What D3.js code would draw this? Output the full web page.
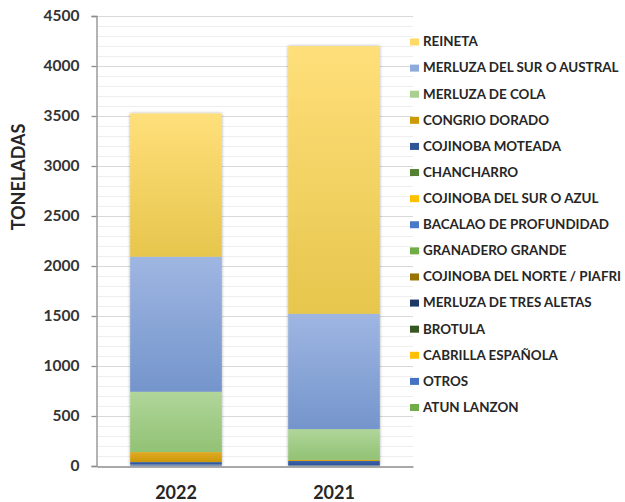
<!DOCTYPE html>
<html>
<head>
<meta charset="utf-8">
<script src="https://cdn.jsdelivr.net/npm/d3@7"></script>
<style>
  html, body { margin: 0; padding: 0; background: #fff; }
  svg text { font-family: Lato, "Open Sans", sans-serif; font-weight: 700; }
</style>
</head>
<body>
<div id="chart"></div>
<script>
// Chart values
var years = ["2022", "2021"];

var species = [
  "REINETA", "MERLUZA DEL SUR O AUSTRAL", "MERLUZA DE COLA", "CONGRIO DORADO",
  "COJINOBA MOTEADA", "CHANCHARRO", "COJINOBA DEL SUR O AZUL", "BACALAO DE PROFUNDIDAD",
  "GRANADERO GRANDE", "COJINOBA DEL NORTE / PIAFRI", "MERLUZA DE TRES ALETAS",
  "BROTULA", "CABRILLA ESPAÑOLA", "OTROS", "ATUN LANZON"
];

// tonnes per species, same order as species
var tons2022 = [1433, 1350, 604, 100, 24, 1, 0.5, 8, 0.5, 0.5, 0.5, 0.3, 0.3, 3, 0.3];
var tons2021 = [2677, 1153, 307, 12, 44, 0.5, 0.5, 2, 0.3, 0.3, 0.3, 0.3, 0.3, 1, 0.3];

var yTicks = [0, 500, 1000, 1500, 2000, 2500, 3000, 3500, 4000, 4500];

// Office palette, light top / dark bottom of each segment
var topColors = [
  "#ffdf7a", "#9fb6e2", "#b0d69a", "#e2aa22", "#3b63b0", "#5d8e3c", "#ffc928", "#5a85d0",
  "#82bd5a", "#a47c0a", "#27447a", "#3f6229", "#ffc928", "#5a85d0", "#82bd5a"
];
var bottomColors = [
  "#e6c64c", "#7495cc", "#92c274", "#c9980a", "#2d5194", "#4c7a30", "#eab000", "#3f68b5",
  "#67a040", "#8c6800", "#1c335f", "#2f4a1d", "#eab000", "#3f68b5", "#67a040"
];
var swatchColors = [
  "#ffd966", "#8eaadb", "#a9d08e", "#cc9a06", "#2f5597", "#548235", "#ffc000", "#4a78c8",
  "#70ad47", "#997300", "#203864", "#375623", "#ffc000", "#4472c4", "#70ad47"
];

(function(d3) {
  var
  W      = 625,
  H      = 502,
  plot   = { left: 97, right: 413, top: 16, bottom: 466 }
  ;

  var svg = d3.select("#chart").append("svg")
      .attr("width", W)
      .attr("height", H);

  var defs = svg.append("defs");

  // per species gradient, relative to each segment's own box
  species.forEach(function(s, i) {
    var g = defs.append("linearGradient")
        .attr("id", "grad" + i)
        .attr("x1", 0).attr("y1", 0).attr("x2", 0).attr("y2", 1);
    g.append("stop").attr("offset", "0%").attr("stop-color", topColors[i]);
    g.append("stop").attr("offset", "100%").attr("stop-color", bottomColors[i]);
  });

  var shadow = defs.append("filter")
      .attr("id", "shadow")
      .attr("x", "-20%").attr("y", "-5%").attr("width", "140%").attr("height", "110%");
  shadow.append("feDropShadow")
      .attr("dx", 0).attr("dy", 0)
      .attr("stdDeviation", 1.8)
      .attr("flood-color", "#000")
      .attr("flood-opacity", 0.35);

  // Scales
  var x = d3.scaleBand()
      .domain(years)
      .range([plot.left, plot.right])
      .paddingInner(0.42)
      .paddingOuter(0.21);

  var y = d3.scaleLinear()
      .domain([0, 4500])
      .range([plot.bottom, plot.top]);

  // Minor and major gridlines
  svg.append("g").attr("class", "grid-minor")
    .selectAll("line")
      .data(d3.range(100, 4501, 100).filter(function(v) { return v % 500 !== 0; }))
    .enter().append("line")
      .attr("x1", plot.left).attr("x2", plot.right)
      .attr("y1", function(d) { return y(d) + 0.5; })
      .attr("y2", function(d) { return y(d) + 0.5; })
      .attr("stroke", "#eeeeee");

  svg.append("g").attr("class", "grid-major")
    .selectAll("line")
      .data(yTicks.slice(1))
    .enter().append("line")
      .attr("x1", plot.left).attr("x2", plot.right)
      .attr("y1", function(d) { return y(d) + 0.5; })
      .attr("y2", function(d) { return y(d) + 0.5; })
      .attr("stroke", "#d9d9d9");

  // Stacked data: bottom of the stack is the last species in the legend
  var rows = years.map(function(yr, j) {
    var vals = (j === 0) ? tons2022 : tons2021;
    var row = { year: yr };
    species.forEach(function(s, i) { row[s] = vals[i]; });
    return row;
  });

  var stack = d3.stack().keys(species.slice().reverse());
  var layers = stack(rows);

  var bars = svg.append("g").attr("class", "bars")
    .selectAll("g.bar")
      .data(years)
    .enter().append("g")
      .attr("class", "bar")
      .attr("filter", "url(#shadow)");

  bars.each(function(yr, j) {
    var g = d3.select(this);
    layers.forEach(function(layer) {
      var idx = species.indexOf(layer.key);
      var d = layer[j];
      g.append("rect")
        .attr("x", x(yr))
        .attr("width", x.bandwidth())
        .attr("y", y(d[1]))
        .attr("height", Math.max(0, y(d[0]) - y(d[1])))
        .attr("fill", "url(#grad" + idx + ")");
    });
  });

  // Axes
  var yAxis = d3.axisLeft(y)
      .tickValues(yTicks)
      .tickFormat(d3.format("d"))
      .tickSize(5)
      .tickPadding(12);

  var ya = svg.append("g")
      .attr("transform", "translate(" + (plot.left - 0.5) + ",0)")
      .call(yAxis);
  ya.select(".domain").attr("stroke", "#8c8c8c").attr("stroke-width", 1.3);
  ya.selectAll(".tick line").attr("stroke", "#8c8c8c").attr("stroke-width", 1.3);
  ya.selectAll(".tick text")
      .attr("fill", "#333")
      .style("font-size", "15.5px")
      .style("font-family", "Lato, sans-serif")
      .style("font-weight", 700);

  var xAxis = d3.axisBottom(x).tickSize(0).tickPadding(20);
  var xa = svg.append("g")
      .attr("transform", "translate(0," + (plot.bottom + 0.5) + ")")
      .call(xAxis);
  xa.select(".domain").attr("stroke", "#8c8c8c").attr("stroke-width", 1.3);
  xa.selectAll(".tick text")
      .attr("fill", "#262626")
      .style("font-size", "18px")
      .style("font-family", "Lato, sans-serif")
      .style("font-weight", 700);

  // Axis title
  svg.append("text")
      .attr("transform", "translate(25,177) rotate(-90)")
      .attr("text-anchor", "middle")
      .attr("fill", "#262626")
      .style("font-size", "18px")
      .text("TONELADAS");

  // Legend
  var ly = d3.scalePoint().domain(species).range([41.5, 407]);

  var legend = svg.append("g").attr("class", "legend")
    .selectAll("g")
      .data(species)
    .enter().append("g")
      .attr("transform", function(d) { return "translate(410," + ly(d) + ")"; });

  legend.append("rect")
      .attr("x", 0).attr("y", -3)
      .attr("width", 9).attr("height", 7)
      .attr("fill", function(d, i) { return swatchColors[i]; });

  legend.append("text")
      .attr("x", 13)
      .attr("y", 0)
      .attr("dy", "0.36em")
      .attr("fill", "#262626")
      .style("font-size", "13.4px")
      .text(function(d) { return d; });

})(d3);
</script>
</body>
</html>
